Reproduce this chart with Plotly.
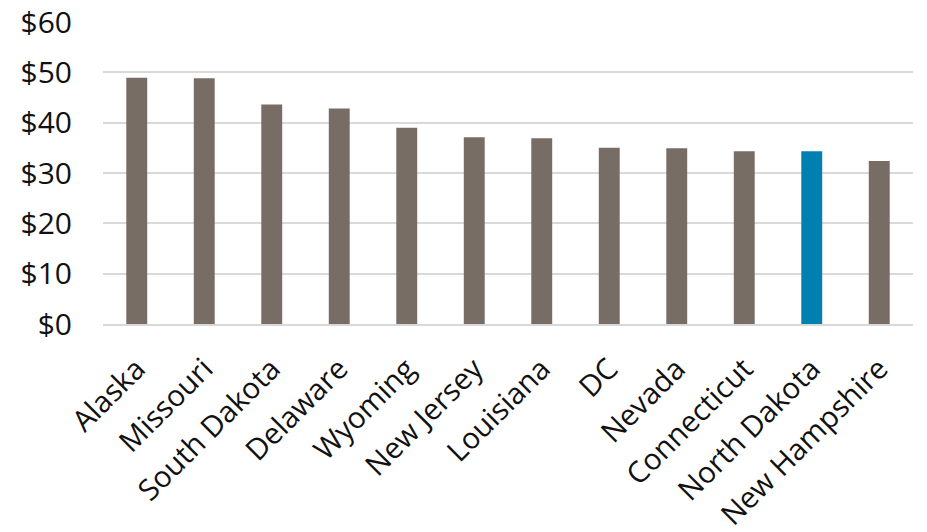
import plotly.graph_objects as go

states = ["Alaska", "Missouri", "South Dakota", "Delaware", "Wyoming", "New Jersey",
          "Louisiana", "DC", "Nevada", "Connecticut", "North Dakota", "New Hampshire"]
values = [48.9, 48.8, 43.6, 42.8, 39.0, 37.1, 36.9, 35.0, 34.9, 34.3, 34.3, 32.4]
highlight = "North Dakota"

gray = "#786D64"
blue = "#0080AF"
colors = [blue if s == highlight else gray for s in states]

fig = go.Figure(go.Bar(x=states, y=values, marker_color=colors, marker_line_width=0))

yfont = dict(family="Open Sans, Noto Sans, sans-serif", size=30, color="#111111")
xfont = dict(family="Open Sans, Noto Sans, sans-serif", size=29.5, color="#111111")
fig.update_layout(
    width=927, height=532,
    margin=dict(l=95, r=22, t=14, b=216),
    plot_bgcolor="white", paper_bgcolor="white",
    bargap=0.69,
    showlegend=False,
    font=yfont,
)
fig.update_yaxes(range=[0, 60], dtick=10, tickprefix="$", showgrid=True,
                 gridcolor="#D9D9D9", gridwidth=1.5, zeroline=False, automargin=False,
                 showline=False, ticks="", ticklabelstandoff=30, tickfont=yfont,
                 ticklabeloverflow="allow")
fig.update_xaxes(tickangle=-45, showline=True, linecolor="#D9D9D9", linewidth=1.5,
                 automargin=False, ticks="", ticklabelstandoff=14, tickfont=xfont,
                 ticklabeloverflow="allow")

fig.write_html("out.html")
